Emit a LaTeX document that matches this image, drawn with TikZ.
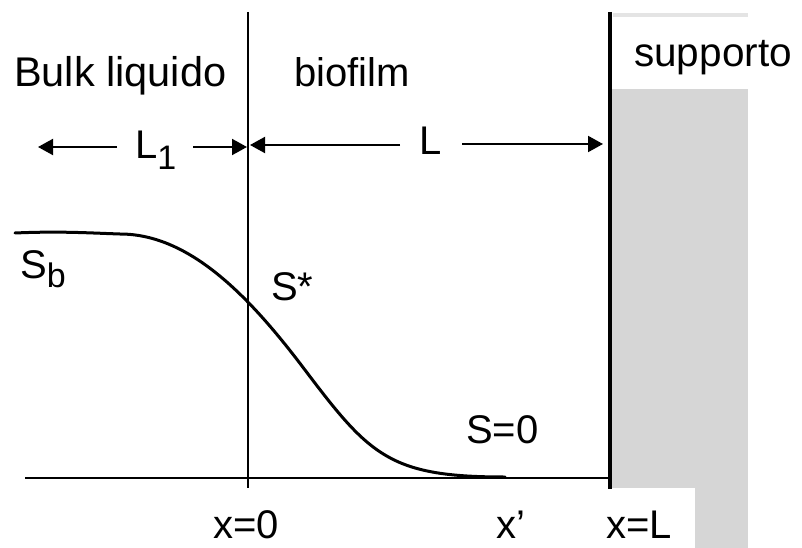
\documentclass[tikz,border=0pt]{standalone}
\usepackage{fontspec}
\setmainfont{Liberation Sans}
\usetikzlibrary{arrows.meta}
\definecolor{supgrey}{RGB}{214,214,214}
\definecolor{stripgrey}{RGB}{228,228,228}
\begin{document}
\begin{tikzpicture}[x=1pt,y=-1pt,
  lbl/.style={inner sep=0pt, font=\fontsize{40}{42}\selectfont},
  dimarrow/.style={line width=2pt, -{Triangle[length=15pt,width=16pt]}},
  thinline/.style={line width=1.5pt}]
\useasboundingbox (0,0) rectangle (802,548);
% support (grey)
\fill[stripgrey] (613,13) rectangle (748,17);
\fill[supgrey] (612,89) rectangle (748,488);
\fill[supgrey] (695,488) rectangle (748,548);
% axis and lines
\coordinate (axL) at (25,478);
\coordinate (axR) at (610,478);
\draw[thinline] (axL) -- (axR);
\coordinate (v0top) at (248,12);
\coordinate (v0bot) at (248,488);
\draw[thinline] (v0top) -- (v0bot);
\coordinate (wtop) at (610,12);
\coordinate (wbot) at (610,489);
\draw[line width=3.5pt] (wtop) -- (wbot);
% dimension arrows
\coordinate (a1tail) at (117,147);
\coordinate (a1tip) at (38,147);
\coordinate (a2tail) at (193,147);
\coordinate (a2tip) at (247,147);
\coordinate (a3tail) at (400,145);
\coordinate (a3tip) at (250,145);
\coordinate (a4tail) at (462,144);
\coordinate (a4tip) at (603,144);
\draw[dimarrow] (a1tail) -- (a1tip);
\draw[dimarrow] (a2tail) -- (a2tip);
\draw[dimarrow] (a3tail) -- (a3tip);
\draw[dimarrow] (a4tail) -- (a4tip);
% concentration profile
\coordinate (c0) at (15,233);
\coordinate (c1) at (120,234);
\coordinate (cinf) at (305,370);
\coordinate (cend) at (505,477);
\draw[line width=3pt, line cap=round] (c0) .. controls (60,231) and (90,233) .. (c1)
  .. controls (190,234) and (250,297) .. (cinf)
  .. controls (370,456) and (390,477) .. (cend);
% labels
\node[lbl, anchor=base west, font=\fontsize{41.5}{43}\selectfont] (bulk) at (14,87) {Bulk liquido};
\node[lbl, anchor=base west] (biofilm) at (294,87) {biofilm};
\node[lbl, anchor=base west, font=\fontsize{40.5}{42}\selectfont] (supporto) at (634,67) {supporto};
\node[lbl, anchor=base west] (L1) at (135,158) {L\raisebox{-12pt}{\fontsize{34}{36}\selectfont 1}};
\node[lbl, anchor=base west] (L) at (419,154) {L};
\node[lbl, anchor=base west] (Sb) at (20,278) {S\raisebox{-9pt}{\fontsize{34}{36}\selectfont b}};
\node[lbl, anchor=base west] (Sstar) at (271,300) {S*};
\node[lbl, anchor=base west] (S0) at (466,443) {S=0};
\node[lbl, anchor=base west] (x0) at (213,538) {x=0};
\node[lbl, anchor=base west] (xp) at (496,538) {x’};
\node[lbl, anchor=base west] (xL) at (606,538) {x=L};
\end{tikzpicture}
\end{document}
